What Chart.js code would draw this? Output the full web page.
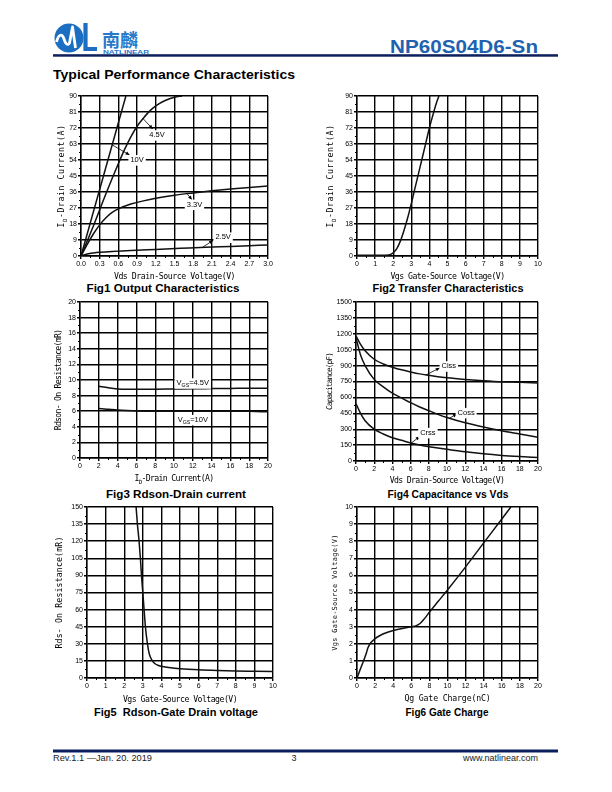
<!DOCTYPE html>
<html><head><meta charset="utf-8">
<script src="https://cdn.jsdelivr.net/npm/chart.js@4.4.0/dist/chart.umd.min.js"></script>
<style>
html,body{margin:0;padding:0;background:#fff;}
body{width:612px;height:792px;position:relative;overflow:hidden;}
canvas{position:absolute;}
#page{position:absolute;left:0;top:0;}
</style></head><body>
<svg id="page" width="612" height="792" xmlns="http://www.w3.org/2000/svg">
  <circle cx="69" cy="38" r="14.5" fill="#1b6ec2"/>
  <path d="M56.5,42 C58.5,34 62,33 64,39 C65.5,44 67.5,46 69.5,43 L72.5,27 L75.5,48" stroke="#fff" stroke-width="2.8" fill="none" stroke-linejoin="round"/>
  <path d="M85.5,23 L85.5,49 L97,49" stroke="#1b6ec2" stroke-width="4.2" fill="none"/>
  <text x="102" y="47" font-family="Noto Sans CJK SC" font-size="18" font-weight="bold" fill="#2a78c8">南麟</text>
  <text x="103" y="53.8" font-family="Liberation Sans" font-weight="bold" font-size="5" fill="#2a78c8" textLength="46" lengthAdjust="spacingAndGlyphs">NATLINEAR</text>
  <text x="390" y="52.5" font-family="Liberation Sans" font-weight="bold" font-size="18" fill="#1f62b0" textLength="148" lengthAdjust="spacingAndGlyphs">NP60S04D6-Sn</text>
  <rect x="53" y="54.2" width="505" height="2.5" fill="#0d1f5c"/>
  <text x="53" y="78.5" font-family="Liberation Sans" font-weight="bold" font-size="13" textLength="242" lengthAdjust="spacingAndGlyphs">Typical Performance Characteristics</text>
  <g font-family="Liberation Sans" font-weight="bold" font-size="10.5" text-anchor="middle">
    <text x="163" y="291.8" textLength="153" lengthAdjust="spacingAndGlyphs">Fig1 Output Characteristics</text>
    <text x="448" y="291.8" textLength="151" lengthAdjust="spacingAndGlyphs">Fig2 Transfer Characteristics</text>
    <text x="176" y="497.8" textLength="140" lengthAdjust="spacingAndGlyphs">Fig3 Rdson-Drain current</text>
    <text x="448" y="497.8" textLength="121" lengthAdjust="spacingAndGlyphs">Fig4 Capacitance vs Vds</text>
    <text x="176" y="715.8" textLength="164" lengthAdjust="spacingAndGlyphs" xml:space="preserve">Fig5  Rdson-Gate Drain voltage</text>
    <text x="447" y="715.8" textLength="83" lengthAdjust="spacingAndGlyphs">Fig6 Gate Charge</text>
  </g>
  <rect x="53" y="749.5" width="505" height="3" fill="#0b1f5e"/>
  <g font-family="Liberation Sans" font-size="9" fill="#222">
    <text x="53" y="761" textLength="99" lengthAdjust="spacingAndGlyphs">Rev.1.1 —Jan. 20. 2019</text>
    <text x="294" y="761" text-anchor="middle">3</text>
    <text x="463" y="761" textLength="75" lengthAdjust="spacingAndGlyphs">www.natlinear.com</text>
  </g>
</svg>
<canvas id="c1"></canvas><canvas id="c2"></canvas><canvas id="c3"></canvas>
<canvas id="c4"></canvas><canvas id="c5"></canvas><canvas id="c6"></canvas>
<script>
// ---------------- DATA ----------------
// Fig1 Output characteristics: Vds (V) vs Id (A)
const f1X_10V = [0, 0.72];
const f1Y_10V = [0, 90];
const f1X_45V = [0, 0.2, 0.4, 0.6, 0.7, 0.8, 0.9, 1.0, 1.1, 1.2, 1.35, 1.5, 1.62];
const f1Y_45V = [0, 17, 35, 52, 60, 67, 73, 77.5, 81.5, 84.5, 87.5, 89.3, 90];
const f1X_33V = [0, 0.1, 0.2, 0.3, 0.4, 0.5, 0.6, 0.8, 1.0, 1.2, 1.5, 1.8, 2.1, 2.4, 2.7, 3.0];
const f1Y_33V = [0, 6.5, 12.5, 17.5, 21.5, 24.5, 26.5, 29.2, 31.0, 32.5, 34.2, 35.5, 36.7, 37.7, 38.6, 39.4];
const f1X_25V = [0, 0.1, 0.2, 0.3, 0.5, 0.8, 1.2, 1.6, 2.0, 2.4, 2.7, 3.0];
const f1Y_25V = [0, 1.1, 1.7, 2.1, 2.6, 3.1, 3.7, 4.3, 4.9, 5.4, 5.8, 6.2];
const f1XTicks = [0, 0.3, 0.6, 0.9, 1.2, 1.5, 1.8, 2.1, 2.4, 2.7, 3.0];
const f1XLabels = ['0.0','0.3','0.6','0.9','1.2','1.5','1.8','2.1','2.4','2.7','3.0'];
const f1YTicks = [0, 9, 18, 27, 36, 45, 54, 63, 72, 81, 90];
const f1YLabels = ['0','9','18','27','36','45','54','63','72','81','90'];

// Fig2 Transfer characteristics: Vgs (V) vs Id (A)
const f2X = [0, 0.5, 1.0, 1.5, 1.7, 1.85, 2.0, 2.2, 2.4, 2.6, 2.8, 3.0, 3.2, 3.4, 3.6, 3.8, 4.0, 4.2, 4.4, 4.53];
const f2Y = [0.4, 0.4, 0.4, 0.4, 0.5, 0.9, 1.8, 4.2, 8.5, 14.5, 21.5, 29.5, 38, 46.5, 55, 63.5, 72, 79.5, 86.5, 90];
const f2XTicks = [0, 1, 2, 3, 4, 5, 6, 7, 8, 9, 10];
const f2XLabels = ['0','1','2','3','4','5','6','7','8','9','10'];
const f2YTicks = [0, 9, 18, 27, 36, 45, 54, 63, 72, 81, 90];
const f2YLabels = ['0','9','18','27','36','45','54','63','72','81','90'];

// Fig3 Rdson vs drain current: Id (A) vs Rdson (mOhm)
const f3X = [2, 3, 4, 5, 6, 8, 10, 12, 14, 16, 18, 20];
const f3Y_45V = [9.2, 9.0, 8.85, 8.8, 8.8, 8.82, 8.85, 8.88, 8.9, 8.92, 8.95, 8.95];
const f3Y_10V = [6.35, 6.25, 6.15, 6.08, 6.03, 6.0, 6.0, 6.0, 6.0, 6.0, 5.98, 5.92];
const f3XTicks = [0, 2, 4, 6, 8, 10, 12, 14, 16, 18, 20];
const f3XLabels = ['0','2','4','6','8','10','12','14','16','18','20'];
const f3YTicks = [0, 2, 4, 6, 8, 10, 12, 14, 16, 18, 20];
const f3YLabels = ['0','2','4','6','8','10','12','14','16','18','20'];

// Fig4 Capacitance vs Vds: Vds (V) vs C (pF)
const f4X = [0, 0.5, 1, 2, 3, 4, 5, 6, 7, 8, 9, 10, 12, 14, 16, 18, 20];
const f4Ciss = [1180, 1100, 1040, 960, 915, 885, 860, 840, 822, 808, 795, 785, 770, 758, 748, 742, 735];
const f4Coss = [1160, 1000, 900, 770, 700, 640, 595, 550, 510, 475, 440, 410, 360, 320, 285, 255, 225];
const f4Crss = [540, 450, 380, 300, 255, 220, 195, 170, 150, 135, 122, 110, 87, 68, 53, 42, 33];
const f4XTicks = [0, 2, 4, 6, 8, 10, 12, 14, 16, 18, 20];
const f4XLabels = ['0','2','4','6','8','10','12','14','16','18','20'];
const f4YTicks = [0, 150, 300, 450, 600, 750, 900, 1050, 1200, 1350, 1500];
const f4YLabels = ['0','150','300','450','600','750','900','1050','1200','1350','1500'];

// Fig5 Rdson vs Vgs: Vgs (V) vs Rds (mOhm)
const f5X = [2.64, 2.71, 2.8, 2.87, 2.93, 3.0, 3.07, 3.14, 3.25, 3.35, 3.5, 3.66, 3.85, 4.0, 4.5, 5, 6, 7, 8, 9, 10];
const f5Y = [150, 135, 120, 105, 90, 75, 60, 45, 30, 21, 15.5, 12.5, 11, 10.3, 9.0, 8.2, 7.2, 6.6, 6.2, 5.9, 5.6];
const f5XTicks = [0, 1, 2, 3, 4, 5, 6, 7, 8, 9, 10];
const f5XLabels = ['0','1','2','3','4','5','6','7','8','9','10'];
const f5YTicks = [0, 15, 30, 45, 60, 75, 90, 105, 120, 135, 150];
const f5YLabels = ['0','15','30','45','60','75','90','105','120','135','150'];

// Fig6 Gate charge: Qg (nC) vs Vgs (V)
const f6X = [0, 0.5, 1.0, 1.2, 1.5, 2, 2.5, 3, 4, 5, 6, 6.5, 7, 7.5, 8, 9, 10, 12, 14, 16, 17];
const f6Y = [0, 0.7, 1.4, 1.75, 2.05, 2.3, 2.47, 2.6, 2.78, 2.9, 3.0, 3.05, 3.2, 3.5, 3.85, 4.5, 5.15, 6.5, 7.9, 9.3, 10];
const f6XTicks = [0, 2, 4, 6, 8, 10, 12, 14, 16, 18, 20];
const f6XLabels = ['0','2','4','6','8','10','12','14','16','18','20'];
const f6YTicks = [0, 1, 2, 3, 4, 5, 6, 7, 8, 9, 10];
const f6YLabels = ['0','1','2','3','4','5','6','7','8','9','10'];

// ---------------- RENDERING ----------------
Chart.defaults.font.family = "'Liberation Sans', Arial, sans-serif";
Chart.defaults.color = '#000';
const PAD = {l: 36, t: 8, r: 10, b: 30};
const MONO = "'DejaVu Sans Mono', monospace";

function drawRich(ctx, t, cx, cy) {
  ctx.letterSpacing = (t.ls || 0) + 'px';
  const ws = []; let total = 0;
  t.parts.forEach(p => {
    ctx.font = (p.sub ? t.size * 0.7 : t.size) + 'px ' + MONO;
    const w = ctx.measureText(p.t).width; ws.push(w); total += w;
  });
  let x = cx - total / 2;
  ctx.textAlign = 'left'; ctx.textBaseline = 'middle';
  t.parts.forEach((p, i) => {
    ctx.font = (p.sub ? t.size * 0.7 : t.size) + 'px ' + MONO;
    ctx.fillText(p.t, x, cy + (p.sub ? t.size * 0.4 : 0));
    x += ws[i];
  });
  ctx.letterSpacing = '0px';
}

const axisTitles = {
  id: 'axisTitles',
  afterDraw(chart, args, o) {
    const ctx = chart.ctx, a = chart.chartArea;
    ctx.save(); ctx.fillStyle = '#000';
    if (o.x) drawRich(ctx, o.x, (a.left + a.right) / 2 + (o.x.shift || 0), a.bottom + o.x.off);
    if (o.y) {
      ctx.translate(a.left - o.y.off, (a.top + a.bottom) / 2 + (o.y.shift || 0));
      ctx.rotate(-Math.PI / 2);
      drawRich(ctx, o.y, 0, 0);
    }
    ctx.restore();
  }
};

const minorTicks = {
  id: 'minorTicks',
  afterDraw(chart) {
    const ctx = chart.ctx, a = chart.chartArea, xs = chart.scales.x, ys = chart.scales.y;
    ctx.save(); ctx.strokeStyle = '#000'; ctx.lineWidth = 1; ctx.beginPath();
    const xt = xs.ticks.map(t => t.value);
    for (let i = 0; i < xt.length - 1; i++) {
      const px = Math.round(xs.getPixelForValue((xt[i] + xt[i + 1]) / 2)) + 0.5;
      ctx.moveTo(px, a.bottom); ctx.lineTo(px, a.bottom + 2);
    }
    const yt = ys.ticks.map(t => t.value);
    for (let i = 0; i < yt.length - 1; i++) {
      const py = Math.round(ys.getPixelForValue((yt[i] + yt[i + 1]) / 2)) + 0.5;
      ctx.moveTo(a.left - 2, py); ctx.lineTo(a.left, py);
    }
    ctx.stroke(); ctx.restore();
  }
};

const notes = {
  id: 'notes',
  afterDatasetsDraw(chart, args, o) {
    if (!o.items) return;
    const ctx = chart.ctx, xs = chart.scales.x, ys = chart.scales.y;
    ctx.save();
    o.items.forEach(it => {
      if (it.from) {
        const x1 = xs.getPixelForValue(it.from[0]), y1 = ys.getPixelForValue(it.from[1]);
        const x2 = xs.getPixelForValue(it.to[0]), y2 = ys.getPixelForValue(it.to[1]);
        ctx.strokeStyle = '#000'; ctx.fillStyle = '#000'; ctx.lineWidth = 0.8;
        ctx.beginPath(); ctx.moveTo(x1, y1); ctx.lineTo(x2, y2); ctx.stroke();
        const ang = Math.atan2(y2 - y1, x2 - x1), L = 4, w = 1.8;
        ctx.beginPath(); ctx.moveTo(x2, y2);
        ctx.lineTo(x2 - L * Math.cos(ang) + w * Math.sin(ang), y2 - L * Math.sin(ang) - w * Math.cos(ang));
        ctx.lineTo(x2 - L * Math.cos(ang) - w * Math.sin(ang), y2 - L * Math.sin(ang) + w * Math.cos(ang));
        ctx.closePath(); ctx.fill();
      }
      const cx = xs.getPixelForValue(it.at[0]), cy = ys.getPixelForValue(it.at[1]);
      const size = 7.5, fam = "'Liberation Sans', Arial, sans-serif";
      const parts = it.parts;
      const ws = []; let total = 0;
      parts.forEach(p => { ctx.font = (p.sub ? size * 0.7 : size) + 'px ' + fam; const w = ctx.measureText(p.t).width; ws.push(w); total += w; });
      ctx.fillStyle = '#fff';
      ctx.fillRect(cx - total / 2 - 2, cy - size * 0.65, total + 4, size * 1.4);
      ctx.fillStyle = '#000'; ctx.textBaseline = 'middle'; ctx.textAlign = 'left';
      let x = cx - total / 2;
      parts.forEach((p, i) => {
        ctx.font = (p.sub ? size * 0.7 : size) + 'px ' + fam;
        ctx.fillText(p.t, x, cy + (p.sub ? size * 0.35 : 0));
        x += ws[i];
      });
    });
    ctx.restore();
  }
};

function series(xs, ys) {
  return {
    data: xs.map((x, i) => ({x: x, y: ys[i]})),
    showLine: true, borderColor: '#111', borderWidth: 1.5, pointRadius: 0,
    cubicInterpolationMode: 'monotone', fill: false
  };
}

function makeChart(id, rect, xT, xL, yT, yL, datasets, titles, items) {
  const W = rect.R - rect.L + PAD.l + PAD.r, H = rect.B - rect.T + PAD.t + PAD.b;
  const cv = document.getElementById(id);
  cv.width = W; cv.height = H;
  cv.style.width = W + 'px'; cv.style.height = H + 'px';
  cv.style.left = (rect.L - PAD.l) + 'px'; cv.style.top = (rect.T - PAD.t) + 'px';
  const tickFont = {size: 7};
  return new Chart(cv, {
    type: 'scatter',
    data: {datasets: datasets},
    options: {
      responsive: false, animation: false, devicePixelRatio: 1,
      layout: {padding: {left: 0, top: PAD.t, right: PAD.r, bottom: 0}},
      plugins: {legend: {display: false}, tooltip: {enabled: false},
        axisTitles: titles, notes: {items: items}},
      scales: {
        x: {
          type: 'linear', min: xT[0], max: xT[xT.length - 1],
          afterBuildTicks: s => { s.ticks = xT.map(v => ({value: v})); },
          afterFit: s => { s.height = PAD.b; s.paddingLeft = 0; s.paddingRight = 0; },
          ticks: {autoSkip: false, maxRotation: 0, minRotation: 0, padding: 1, font: tickFont, color: '#000',
            callback: (v, i) => xL[i]},
          grid: {color: '#000', lineWidth: 1.4, tickLength: 3},
          border: {color: '#000', width: 1.4}
        },
        y: {
          type: 'linear', min: yT[0], max: yT[yT.length - 1],
          afterBuildTicks: s => { s.ticks = yT.map(v => ({value: v})); },
          afterFit: s => { s.width = PAD.l; s.paddingTop = 0; s.paddingBottom = 0; },
          ticks: {autoSkip: false, padding: 1, font: tickFont, color: '#000',
            callback: (v, i) => yL[i]},
          grid: {color: '#000', lineWidth: 1.4, tickLength: 3},
          border: {color: '#000', width: 1.4}
        }
      }
    },
    plugins: [minorTicks, axisTitles, notes]
  });
}

const P = t => ({t: t});
const S = t => ({t: t, sub: true});

makeChart('c1', {L: 81, T: 96, R: 268, B: 256}, f1XTicks, f1XLabels, f1YTicks, f1YLabels,
  [series(f1X_10V, f1Y_10V), series(f1X_45V, f1Y_45V), series(f1X_33V, f1Y_33V), series(f1X_25V, f1Y_25V)],
  {x: {parts: [P('Vds Drain-Source Voltage(V)')], size: 8.2, ls: -0.44, off: 21},
   y: {parts: [P('I'), S('D'), P('-Drain Current(A)')], size: 8.2, ls: 0.56, off: 19}},
  [{parts: [P('4.5V')], at: [1.22, 68], from: [0.99, 77.5], to: [1.15, 71.5]},
   {parts: [P('10V')], at: [0.9, 54], from: [0.5, 62.5], to: [0.78, 56.8]},
   {parts: [P('3.3V')], at: [1.82, 29], from: [1.7, 35.1], to: [1.78, 31.6]},
   {parts: [P('2.5V')], at: [2.28, 10.5], from: [1.95, 4.9], to: [2.12, 8.8]}]);

makeChart('c2', {L: 357, T: 96, R: 538, B: 256}, f2XTicks, f2XLabels, f2YTicks, f2YLabels,
  [series(f2X, f2Y)],
  {x: {parts: [P('Vgs Gate-Source Voltage(V)')], size: 8.2, ls: -0.54, off: 21},
   y: {parts: [P('I'), S('D'), P('-Drain Current(A)')], size: 8.2, ls: 0.56, off: 26}},
  []);

makeChart('c3', {L: 80, T: 302, R: 268, B: 458}, f3XTicks, f3XLabels, f3YTicks, f3YLabels,
  [series(f3X, f3Y_45V), series(f3X, f3Y_10V)],
  {x: {parts: [P('I'), S('D'), P('-Drain Current(A)')], size: 8.2, ls: -0.7, off: 21},
   y: {parts: [P('Rdson- On Resistance(mR)')], size: 8.2, ls: -0.74, off: 21}},
  [{parts: [P('V'), S('GS'), P('=4.5V')], at: [12, 9.6]},
   {parts: [P('V'), S('GS'), P('=10V')], at: [12, 4.9]}]);

makeChart('c4', {L: 356, T: 302, R: 538, B: 461}, f4XTicks, f4XLabels, f4YTicks, f4YLabels,
  [series(f4X, f4Ciss), series(f4X, f4Coss), series(f4X, f4Crss)],
  {x: {parts: [P('Vds Drain-Source Voltage(V)')], size: 8.2, ls: -0.68, off: 20},
   y: {parts: [P('Capacitance(pF)')], size: 7.8, ls: -0.9, off: 26}},
  [{parts: [P('Ciss')], at: [10.2, 895], from: [7.7, 812], to: [9.2, 878]},
   {parts: [P('Coss')], at: [12.1, 455], from: [10.3, 405], to: [11.1, 445]},
   {parts: [P('Crss')], at: [7.9, 267], from: [6.1, 170], to: [7.0, 232]}]);

makeChart('c5', {L: 87, T: 507, R: 273, B: 678}, f5XTicks, f5XLabels, f5YTicks, f5YLabels,
  [series(f5X, f5Y)],
  {x: {parts: [P('Vgs Gate-Source Voltage(V)')], size: 8.2, ls: -0.54, off: 22},
   y: {parts: [P('Rds- On Resistance(mR)')], size: 8.2, ls: 0.16, off: 27}},
  []);

makeChart('c6', {L: 357, T: 507, R: 538, B: 678}, f6XTicks, f6XLabels, f6YTicks, f6YLabels,
  [series(f6X, f6Y)],
  {x: {parts: [P('Qg Gate Charge(nC)')], size: 8.2, ls: -0.14, off: 21},
   y: {parts: [P('Vgs Gate-Source Voltage(V)')], size: 7, ls: 0.26, off: 22}},
  []);
</script>
</body></html>
